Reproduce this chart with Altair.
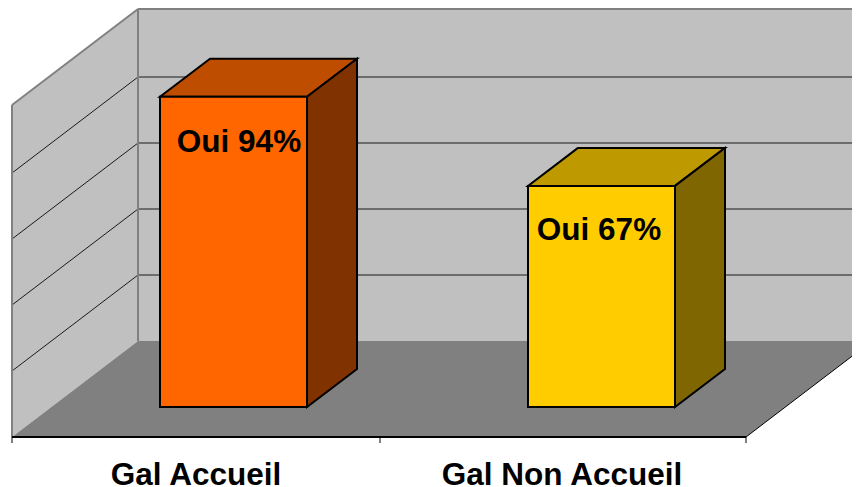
import altair as alt
import pandas as pd

categories = ["Gal Accueil", "Gal Non Accueil"]
values = [94, 67]
labels = ["Oui 94%", "Oui 67%"]
bar_left = [160, 528]
bar_right = [307, 675]
front_colors = ["#FF6600", "#FFCC00"]
top_colors = ["#BF4D00", "#BF9900"]
side_colors = ["#803300", "#806600"]
grid_levels = [20, 40, 60, 80]
wall_top = 100.6

PX = 3.3                      # pixels per percent on the value scale
FLOOR_DX, FLOOR_DV = 126, -96 / PX
BAR_DX, BAR_DV = 50, 38 / PX
BASE_V = -20                  # bar front base in value units (in front of the back wall)
W, H = 844, 479


def v_of(px):
    return (341 - px) / PX


xs = alt.Scale(domain=[8, 8 + W], range=[0, W], nice=False, zero=False)
ys = alt.Scale(domain=[v_of(8 + H), v_of(8)], range=[H, 0], nice=False, zero=False)
X = lambda f: alt.X(f"{f}:Q", scale=xs, axis=None)
Y = lambda f: alt.Y(f"{f}:Q", scale=ys, axis=None)


def vface(xa, ta, ba, xb, tb, bb, **mark):
    df = pd.DataFrame({"x": [xa, xb], "t": [ta, tb], "b": [ba, bb]})
    return alt.Chart(df).mark_area(clip=True, **mark).encode(
        x=X("x"), y=Y("t"), y2=alt.Y2("b"))


def hface(va, la, ra, vb, lb, rb, **mark):
    df = pd.DataFrame({"v": [va, vb], "l": [la, lb], "r": [ra, rb]})
    return alt.Chart(df).mark_area(clip=True, orient="horizontal", **mark).encode(
        y=Y("v"), x=X("l"), x2=alt.X2("r"))


def seg(x1, v1, x2, v2, color, width):
    df = pd.DataFrame({"x": [x1], "v": [v1], "x2": [x2], "v2": [v2]})
    return alt.Chart(df).mark_rule(color=color, strokeWidth=width, clip=True).encode(
        x=X("x"), y=Y("v"), x2=alt.X2("x2"), y2=alt.Y2("v2"))


def text(x, px_y, s, size):
    df = pd.DataFrame({"x": [x], "v": [v_of(px_y)], "s": [s]})
    return alt.Chart(df).mark_text(
        font="Liberation Sans", fontWeight="bold", fontSize=size,
        color="#000000", align="center", baseline="alphabetic"
    ).encode(x=X("x"), y=Y("v"), text="s:N")


layers = []
# back wall, side wall, floor
layers.append(vface(138, wall_top, 0, 872, wall_top, 0, fill="#C0C0C0"))
layers.append(vface(12, wall_top + FLOOR_DV, FLOOR_DV, 138, wall_top, 0, fill="#C0C0C0"))
layers.append(hface(0, 138, 872, FLOOR_DV, 12, 746, fill="#808080"))

# gridlines
for g in grid_levels:
    layers.append(seg(138, g, 872, g, "#1a1a1a", 1))
    layers.append(seg(12, g + FLOOR_DV, 138, g, "#1a1a1a", 1))

# wall outlines
layers.append(seg(138, wall_top, 872, wall_top, "#808080", 2))
layers.append(seg(138, 0, 138, wall_top, "#808080", 2))
layers.append(seg(12, FLOOR_DV, 12, wall_top + FLOOR_DV, "#808080", 2))
layers.append(seg(12, wall_top + FLOOR_DV, 138, wall_top, "#808080", 2))

# floor edges, ticks
layers.append(seg(12, FLOOR_DV, 746, FLOOR_DV, "#000000", 2))
layers.append(seg(746, FLOOR_DV, 872, 0, "#000000", 1))
for tx in [12, 380, 746]:
    layers.append(seg(tx, FLOOR_DV, tx, v_of(443), "#000000", 1))

# bars
for i, val in enumerate(values):
    l, r = bar_left[i], bar_right[i]
    top = BASE_V + val
    stroke = dict(stroke="#000000", strokeWidth=2, strokeJoin="miter")
    layers.append(hface(top, l, r, top + BAR_DV, l + BAR_DX, r + BAR_DX,
                        fill=top_colors[i], **stroke))
    layers.append(vface(r, top, BASE_V, r + BAR_DX, top + BAR_DV, BASE_V + BAR_DV,
                        fill=side_colors[i], **stroke))
    layers.append(vface(l, top, BASE_V, r, top, BASE_V,
                        fill=front_colors[i], **stroke))

# labels
layers.append(text(239, 151.5, labels[0], 31.5))
layers.append(text(599, 239.5, labels[1], 31.5))
layers.append(text(196, 485, categories[0], 31.5))
layers.append(text(562, 485, categories[1], 31.5))

chart = alt.layer(*layers).properties(
    width=W, height=H, padding=0,
    autosize=alt.AutoSizeParams(type="none"),
    background="#FFFFFF",
).configure_view(stroke=None)

chart.save("out.html", embed_options={"renderer": "svg", "actions": False})
